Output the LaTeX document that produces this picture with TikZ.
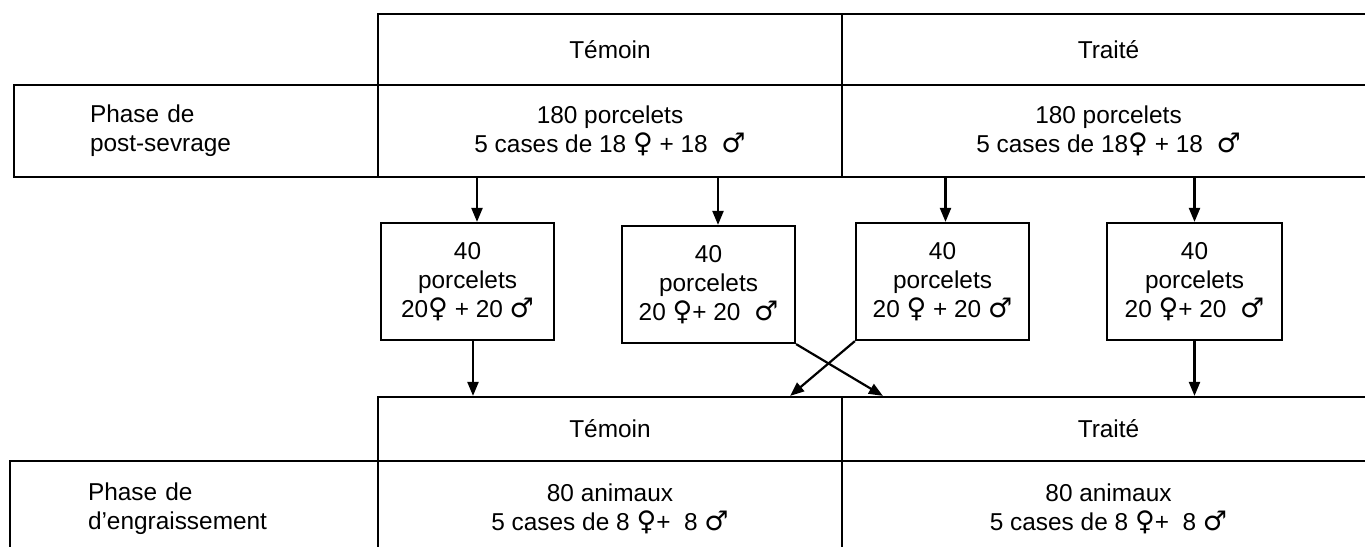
\documentclass[tikz,border=0pt]{standalone}
\usepackage{fontspec}
\setmainfont{Liberation Sans}
\newfontfamily\symfont{DejaVu Sans}
\newcommand\fem{{\symfont\fontsize{13.5pt}{14.5pt}\selectfont ♀}}
\newcommand\mal{{\symfont\fontsize{13.5pt}{14.5pt}\selectfont ♂}}
\usetikzlibrary{arrows.meta,calc}
\begin{document}
\begin{tikzpicture}[x=0.5pt,y=-0.5pt,
  every node/.style={font=\fontsize{12.2pt}{14.5pt}\selectfont},
  cell/.style={draw, line width=1.1pt, inner sep=0pt, align=center},
  lcell/.style={cell, align=left, text width=106pt},
  arr/.style={line width=1.1pt, -{Triangle[length=7pt,width=5.5pt]}}]
\useasboundingbox (0,0) rectangle (1365,546);
\clip (0,0) rectangle (1365,546);
% upper table
\node[cell, minimum width=232pt, minimum height=35.5pt] (h1) at (610,49.5) {Témoin};
\node[cell, minimum width=266.5pt, minimum height=35.5pt] (h2) at (1108.5,49.5) {Traité};
\node[lcell, inner xsep=38pt, minimum height=46pt] (p1) at (196,131) {Phase de\\post-sevrage};
\node[cell, minimum width=232pt, minimum height=46pt] (r1) at (610,131) {180 porcelets\\5 cases de 18 \fem{} + 18 \ \mal};
\node[cell, minimum width=266.5pt, minimum height=46pt] (r2) at (1108.5,131) {180 porcelets\\5 cases de 18\fem{} + 18 \ \mal};
% middle boxes
\node[cell, minimum width=86.5pt, minimum height=58.5pt] (m1) at (467.5,281.5) {40\\porcelets\\20\fem{} + 20 \mal};
\node[cell, minimum width=86.5pt, minimum height=58.5pt] (m2) at (708.5,284.5) {40\\porcelets\\20 \fem{}+ 20 \ \mal};
\node[cell, minimum width=86.5pt, minimum height=58.5pt] (m3) at (942.5,281.5) {40\\porcelets\\20 \fem{} + 20 \mal};
\node[cell, minimum width=87.5pt, minimum height=58.5pt] (m4) at (1194.5,281.5) {40\\porcelets\\20 \fem{}+ 20 \ \mal};
% lower table
\node[cell, minimum width=232pt, minimum height=32pt] (H1) at (610,429) {Témoin};
\node[cell, minimum width=266.5pt, minimum height=32pt] (H2) at (1108.5,429) {Traité};
\node[lcell, inner xsep=39pt, minimum height=47.5pt] (p2) at (194,508.5) {Phase de\\d’engraissement};
\node[cell, minimum width=232pt, minimum height=47.5pt] (R1) at (610,508.5) {80 animaux\\5 cases de 8 \fem{}+ \ 8 \mal};
\node[cell, minimum width=266.5pt, minimum height=47.5pt] (R2) at (1108.5,508.5) {80 animaux\\5 cases de 8 \fem{}+ \ 8 \mal};
% connectors
\coordinate (a1) at ([xshift=4.75pt]m1.north);
\coordinate (a2) at ([xshift=4.75pt]m2.north);
\coordinate (a3) at ([xshift=1.5pt]m3.north);
\coordinate (a4) at (m4.north);
\draw[arr] (a1 |- r1.south) -- (a1);
\draw[arr] (a2 |- r1.south) -- (a2);
\draw[arr] (a3 |- r2.south) -- (a3);
\draw[arr] (a4 |- r2.south) -- (a4);
\coordinate (b1) at ([xshift=2.75pt]m1.south);
\draw[arr] (b1) -- (b1 |- H1.north);
\draw[arr] (m4.south) -- (m4.south |- H2.north);
\coordinate (c2) at ([xshift=21pt]H2.north west);
\coordinate (c3) at ([xshift=-26.5pt]H1.north east);
\draw[arr] (m2.south east) -- (c2);
\draw[arr] (m3.south west) -- (c3);
\end{tikzpicture}
\end{document}
